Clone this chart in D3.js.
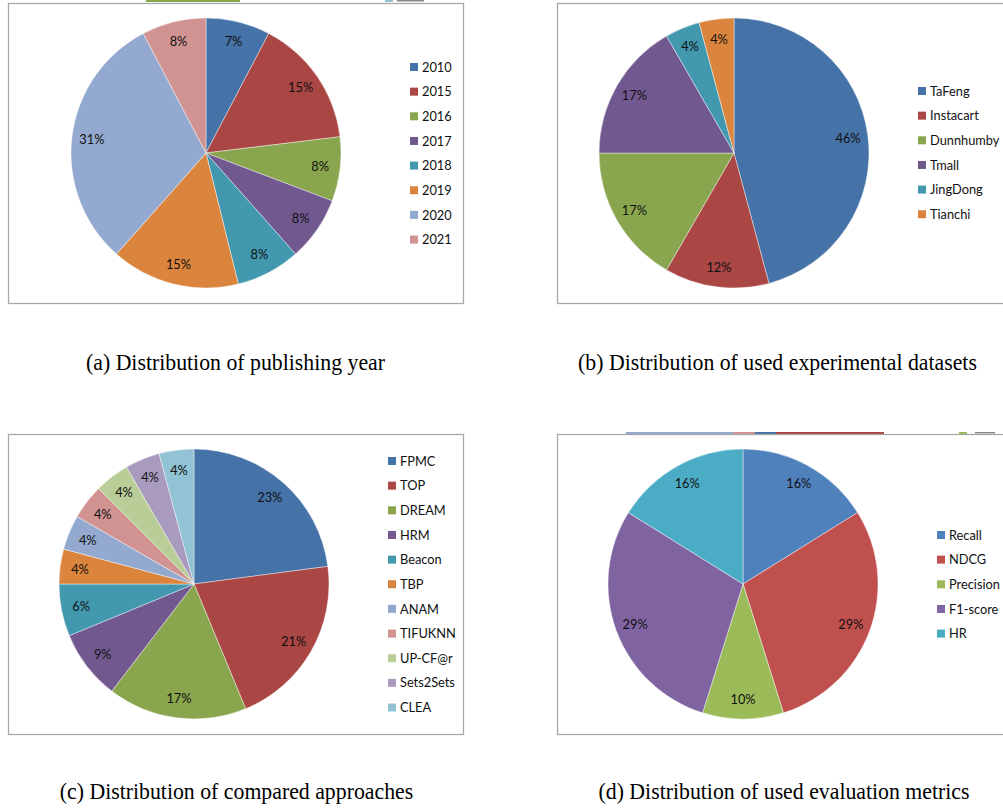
<!DOCTYPE html>
<html>
<head>
<meta charset="utf-8">
<script src="https://cdn.jsdelivr.net/npm/d3@7"></script>
<style>
  html, body { margin: 0; padding: 0; background: #fff; }
  svg { display: block; }
</style>
</head>
<body>
<svg id="chart" width="1003" height="810"></svg>
<script>
// ---------- DATA ----------
const yearCats = ["2010", "2015", "2016", "2017", "2018", "2019", "2020", "2021"];
const yearCounts = [1, 2, 1, 1, 1, 2, 4, 1];
const yearLabels = ["7%", "15%", "8%", "8%", "8%", "15%", "31%", "8%"];

const datasetCats = ["TaFeng", "Instacart", "Dunnhumby", "Tmall", "JingDong", "Tianchi"];
const datasetCounts = [11, 3, 4, 4, 1, 1];
const datasetLabels = ["46%", "12%", "17%", "17%", "4%", "4%"];

const approachCats = ["FPMC", "TOP", "DREAM", "HRM", "Beacon", "TBP", "ANAM", "TIFUKNN", "UP-CF@r", "Sets2Sets", "CLEA"];
const approachCounts = [11, 10, 8, 4, 3, 2, 2, 2, 2, 2, 2];
const approachLabels = ["23%", "21%", "17%", "9%", "6%", "4%", "4%", "4%", "4%", "4%", "4%"];

const metricCats = ["Recall", "NDCG", "Precision", "F1-score", "HR"];
const metricCounts = [5, 9, 3, 9, 5];
const metricLabels = ["16%", "29%", "10%", "29%", "16%"];

const captions = [
  "(a) Distribution of publishing year",
  "(b) Distribution of used experimental datasets",
  "(c) Distribution of compared approaches",
  "(d) Distribution of used evaluation metrics"
];

// ---------- STYLE ----------
const paletteDark = ["#4572A7", "#AA4643", "#89A54E", "#71588F", "#4198AF", "#DB843D", "#93A9CF", "#D19392", "#B9CD96", "#A99BBD", "#92C3D5"];
const paletteBright = ["#4F81BD", "#C0504D", "#9BBB59", "#8064A2", "#4BACC6"];
const LABEL_FONT = "Lato, 'Open Sans', sans-serif";
const CAPTION_FONT = "'Liberation Serif', 'Times New Roman', serif";

const svg = d3.select("#chart");

const panels = [
  { cats: yearCats, vals: yearCounts, labels: yearLabels, colors: paletteDark,
    box: [8, 3, 463, 303], cx: 206, cy: 153, legX: 410, legY0: 67, cap: captions[0], capX: 235.5, capY: 370 },
  { cats: datasetCats, vals: datasetCounts, labels: datasetLabels, colors: paletteDark,
    box: [557, 3, 1010, 303], cx: 734, cy: 153, legX: 918, legY0: 91, cap: captions[1], capX: 777.5, capY: 370 },
  { cats: approachCats, vals: approachCounts, labels: approachLabels, colors: paletteDark,
    box: [8, 434, 463, 734], cx: 194, cy: 584, legX: 388, legY0: 461, cap: captions[2], capX: 236.5, capY: 799 },
  { cats: metricCats, vals: metricCounts, labels: metricLabels, colors: paletteBright,
    box: [557, 434, 1010, 734], cx: 743, cy: 584, legX: 937, legY0: 535, cap: captions[3], capX: 784, capY: 799 }
];

const R = 135, LABEL_R = 115, LEG_STEP = 24.65;

// small cropped remnants at top edges (from figure above / neighbour)
svg.append("rect").attr("x", 146).attr("y", 0).attr("width", 94).attr("height", 2).attr("fill", "#89A54E");
svg.append("rect").attr("x", 385).attr("y", 0).attr("width", 8).attr("height", 2).attr("fill", "#92C3D5");
svg.append("rect").attr("x", 397).attr("y", 0).attr("width", 27).attr("height", 1.5).attr("fill", "#888");

const remnant = [["#93A9CF", 626, 733], ["#D19392", 733, 755], ["#4572A7", 755, 776], ["#AA4643", 776, 884]];
remnant.forEach(([c, x0, x1]) => {
  svg.append("rect").attr("x", x0).attr("y", 432).attr("width", x1 - x0).attr("height", 2).attr("fill", c);
});
svg.append("rect").attr("x", 959).attr("y", 432).attr("width", 8).attr("height", 2).attr("fill", "#9BBB59");
svg.append("rect").attr("x", 975).attr("y", 432).attr("width", 20).attr("height", 1.5).attr("fill", "#888");

panels.forEach(p => {
  const g = svg.append("g");
  const [x0, y0, x1, y1] = p.box;
  g.append("rect").attr("x", x0 + 0.5).attr("y", y0 + 0.5)
    .attr("width", x1 - x0).attr("height", y1 - y0)
    .attr("fill", "none").attr("stroke", "#a8a8a8").attr("stroke-width", 1.3);

  const pie = d3.pie().sort(null).value(d => d.v);
  const data = pie(p.cats.map((c, i) => ({ c, v: p.vals[i], l: p.labels[i], i })));
  const arc = d3.arc().innerRadius(0).outerRadius(R);
  const color = d3.scaleOrdinal().domain(p.cats).range(p.colors);

  const pg = g.append("g").attr("transform", `translate(${p.cx},${p.cy})`);
  pg.selectAll("path").data(data).join("path")
    .attr("d", arc)
    .attr("fill", d => color(d.data.c))
    .attr("stroke", "#ffffff").attr("stroke-width", 0.6).attr("stroke-opacity", 0.7);

  pg.selectAll("text").data(data).join("text")
    .attr("transform", d => {
      const a = (d.startAngle + d.endAngle) / 2;
      return `translate(${Math.sin(a) * LABEL_R},${-Math.cos(a) * LABEL_R})`;
    })
    .attr("text-anchor", "middle").attr("dy", "0.36em")
    .attr("font-family", LABEL_FONT).attr("font-size", 12.8).attr("fill", "#111")
    .text(d => d.data.l);

  // legend
  const lg = g.append("g");
  const rows = lg.selectAll("g").data(p.cats).join("g")
    .attr("transform", (d, i) => `translate(${p.legX},${p.legY0 + i * LEG_STEP})`);
  rows.append("rect").attr("x", 0).attr("y", -4).attr("width", 8).attr("height", 8)
    .attr("fill", d => color(d));
  rows.append("text").attr("x", 12).attr("dy", "0.36em")
    .attr("font-family", LABEL_FONT).attr("font-size", 12.8).attr("fill", "#111")
    .text(d => d);

  // caption
  svg.append("text").attr("class", "cap")
    .attr("x", p.capX).attr("y", p.capY).attr("text-anchor", "middle")
    .attr("font-family", CAPTION_FONT).attr("font-size", 22.5).attr("fill", "#000")
    .text(p.cap);
});

// condense captions horizontally to match the reference proportions
const caps = svg.selectAll("text.cap").nodes();
const k = 299 / caps[0].getComputedTextLength();
caps.forEach(n => {
  const w = n.getComputedTextLength();
  n.setAttribute("textLength", (w * k).toFixed(1));
  n.setAttribute("lengthAdjust", "spacingAndGlyphs");
});
</script>
</body>
</html>
